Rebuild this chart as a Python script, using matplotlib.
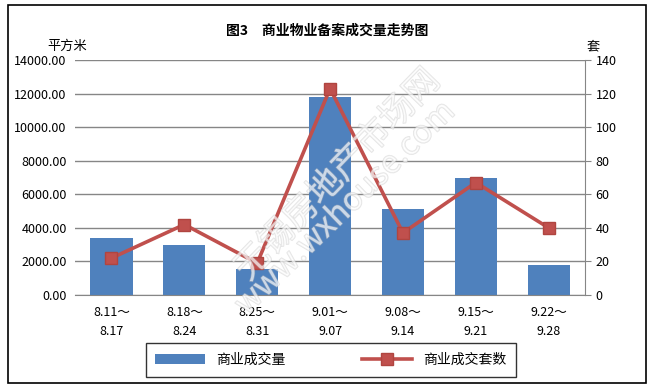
import matplotlib
matplotlib.use("Agg")
import matplotlib.pyplot as plt
import matplotlib.patheffects as pe
from matplotlib.patches import Rectangle
import numpy as np

plt.rcParams['font.family'] = ['Noto Sans CJK SC', 'DejaVu Sans']

# 数据
weeks = ["8.11～\n8.17", "8.18～\n8.24", "8.25～\n8.31", "9.01～\n9.07",
         "9.08～\n9.14", "9.15～\n9.21", "9.22～\n9.28"]
area = [3390, 2980, 1550, 11780, 5120, 6960, 1790]   # 商业成交量 (平方米)
units = [22, 42, 19, 123, 37, 67, 40]                  # 商业成交套数 (套)

bar_color = "#4F81BD"
line_color = "#C0504D"
grid_color = "#868686"

fig = plt.figure(figsize=(6.54, 3.89), dpi=100)
ax = fig.add_axes([0.1147, 0.2416, 0.78, 0.6042])
ax2 = ax.twinx()

x = np.arange(len(weeks))
b = ax.bar(x, area, width=0.58, color=bar_color, zorder=2, label="商业成交量")
l, = ax2.plot(x, units, color=line_color, lw=2.6, marker="s", ms=8,
              mfc=line_color, mec="#b04540", zorder=3, label="商业成交套数")

ax.set_xlim(-0.5, len(weeks) - 0.5)
ax.set_ylim(0, 14000)
ax2.set_ylim(0, 140)
ax.set_yticks(np.arange(0, 14001, 2000))
ax.set_yticklabels(["%.2f" % v for v in np.arange(0, 14001, 2000)], fontsize=9)
ax2.set_yticks(np.arange(0, 141, 20))
ax2.tick_params(axis="y", labelsize=9, colors="black", length=4, color=grid_color)
ax.tick_params(axis="y", length=0, pad=6)
ax.set_xticks(x)
ax.set_xticklabels(weeks, fontsize=9, linespacing=1.6)
ax.tick_params(axis="x", length=0, pad=8)
ax.grid(axis="y", color=grid_color, lw=1, zorder=0)
ax.set_axisbelow(True)

for a in (ax, ax2):
    a.spines["top"].set_visible(False)
    a.spines["left"].set_visible(False)
    a.spines["right"].set_visible(False)
    a.spines["bottom"].set_color(grid_color)
ax2.spines["right"].set_visible(True)
ax2.spines["right"].set_color(grid_color)
ax2.spines["bottom"].set_visible(False)

fig.text(0.5, 0.922, "图3　商业物业备案成交量走势图", ha="center", va="center",
         fontsize=10, fontweight="bold")
fig.text(0.103, 0.88, "平方米", ha="center", va="center", fontsize=9.5)
fig.text(0.907, 0.88, "套", ha="center", va="center", fontsize=9.5)

# 水印 (淡淡的描边字)
wm = dict(color="white", alpha=0.45, ha="center", va="center", zorder=10,
          path_effects=[pe.withStroke(linewidth=1.0, foreground="#c4c4c4")])
fig.text(0.517, 0.55, "无锡房地产市场网", fontsize=25, rotation=46, **wm)
fig.text(0.528, 0.465, "www.wxhouse.com", fontsize=23, rotation=44, **wm)

leg = fig.legend(handles=[b, l], loc="center", bbox_to_anchor=(0.506, 0.075),
                 ncol=2, frameon=True, fancybox=False, edgecolor="black",
                 fontsize=10, handlelength=3.6, columnspacing=5.5,
                 borderpad=0.7, borderaxespad=0)
leg.get_frame().set_linewidth(1)
leg.get_frame().set_boxstyle("square", pad=0)

fig.patches.append(Rectangle((0.012, 0.015), 0.976, 0.972, transform=fig.transFigure,
                             fill=False, edgecolor="black", lw=1.2))

fig.savefig("out.png", dpi=100)
